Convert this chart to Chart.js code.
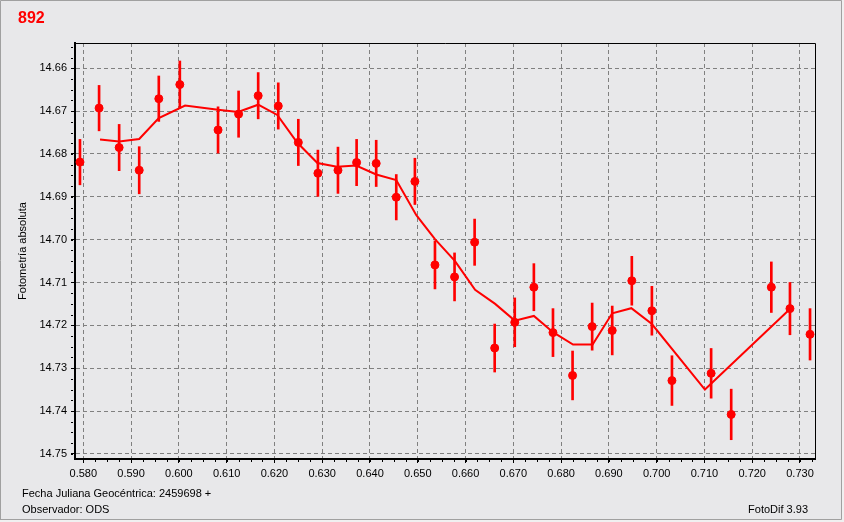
<!DOCTYPE html>
<html>
<head>
<meta charset="utf-8">
<script src="https://cdn.jsdelivr.net/npm/chart.js@4"></script>
<style>
  html, body { margin: 0; padding: 0; background: #f0f0f0; }
  canvas { display: block; }
</style>
</head>
<body>
<canvas id="lightCurve" width="844" height="522"></canvas>
<script>
// observations (JD fraction after 2459698) and magnitudes
const obsX = [0.5793, 0.5833, 0.5875, 0.5917, 0.5958, 0.6002, 0.6082, 0.6125, 0.6166, 0.6208,
  0.6250, 0.6291, 0.6333, 0.6372, 0.6413, 0.6455, 0.6494, 0.6536, 0.6577, 0.6619,
  0.6661, 0.6703, 0.6743, 0.6783, 0.6824, 0.6865, 0.6907, 0.6948, 0.6990, 0.7032,
  0.7114, 0.7156, 0.7240, 0.7279, 0.7321];
const obsY = [14.6819, 14.6693, 14.6785, 14.6838, 14.6671, 14.6638, 14.6744, 14.6707, 14.6664, 14.6688,
  14.6773, 14.6845, 14.6838, 14.6820, 14.6822, 14.6901, 14.6864, 14.7059, 14.7087, 14.7006,
  14.7253, 14.7193, 14.7111, 14.7217, 14.7317, 14.7203, 14.7212, 14.7096, 14.7166, 14.7329,
  14.7312, 14.7408, 14.7111, 14.7161, 14.7221];
const obsErr = [0.0053, 0.0053, 0.0054, 0.0055, 0.0053, 0.0055, 0.0054, 0.0054, 0.0054, 0.0054,
  0.0054, 0.0054, 0.0054, 0.0054, 0.0054, 0.0053, 0.0054, 0.0056, 0.0056, 0.0054,
  0.0056, 0.0057, 0.0055, 0.0056, 0.0057, 0.0055, 0.0057, 0.0057, 0.0057, 0.0058,
  0.0058, 0.0059, 0.0059, 0.0061, 0.0060];

// smoothed curve
const fitX = [0.5835, 0.5875, 0.5917, 0.5958, 0.6013, 0.6082, 0.6124, 0.6166, 0.6206, 0.6248,
  0.6290, 0.6331, 0.6371, 0.6413, 0.6455, 0.6497, 0.6536, 0.6578, 0.6620, 0.6662,
  0.6703, 0.6743, 0.6783, 0.6825, 0.6866, 0.6907, 0.6947, 0.6990, 0.7101, 0.7279];
const fitY = [14.6766, 14.6771, 14.6765, 14.6716, 14.6687, 14.6697, 14.6702, 14.6685, 14.6709, 14.6774,
  14.6821, 14.6830, 14.6827, 14.6848, 14.6861, 14.6943, 14.6999, 14.7050, 14.7117, 14.7150,
  14.7189, 14.7178, 14.7216, 14.7245, 14.7245, 14.7172, 14.7160, 14.7197, 14.7350, 14.7162];

const xTicks = [0.58, 0.59, 0.60, 0.61, 0.62, 0.63, 0.64, 0.65, 0.66, 0.67, 0.68, 0.69, 0.70, 0.71, 0.72, 0.73];
const yTicks = [14.66, 14.67, 14.68, 14.69, 14.70, 14.71, 14.72, 14.73, 14.74, 14.75];

const starName = '892';
const dateLabel = 'Fecha Juliana Geocéntrica: 2459698 +';
const observerLabel = 'Observador: ODS';
const softwareLabel = 'FotoDif 3.93';

const RED = '#ff0000';
const FONT = '"Liberation Sans", Arial, sans-serif';

const panelPlugin = {
  id: 'panel',
  beforeDraw(chart) {
    const c = chart.ctx;
    c.save();
    c.fillStyle = '#f0f0f0';
    c.fillRect(0, 0, chart.width, chart.height);
    c.fillStyle = '#e8e8ea';
    c.fillRect(0, 0, 842, 520);
    c.strokeStyle = '#a0a0a0';
    c.lineWidth = 1;
    c.beginPath();
    c.moveTo(0.5, 520); c.lineTo(0.5, 0.5); c.lineTo(841.5, 0.5);
    c.lineTo(841.5, 519.5); c.lineTo(0.5, 519.5);
    c.stroke();
    c.restore();
  },
  afterDraw(chart) {
    const c = chart.ctx;
    const a = chart.chartArea;
    const xs = chart.scales.x, ys = chart.scales.y;
    c.save();
    // top and right frame
    c.strokeStyle = '#000';
    c.lineWidth = 1;
    c.beginPath();
    c.moveTo(a.left, a.top + 0.5); c.lineTo(a.right + 0.5, a.top + 0.5); c.lineTo(a.right + 0.5, a.bottom);
    c.stroke();

    // minor ticks
    c.beginPath();
    for (let v = xTicks[0] - 0.0025; v <= xs.max; v += 0.0025) {
      if (v < xs.min) continue;
      const px = Math.round(xs.getPixelForValue(v)) + 0.5;
      c.moveTo(px, a.bottom + 1); c.lineTo(px, a.bottom + 3);
    }
    for (let v = yTicks[0] - 0.005; v <= ys.max; v += 0.0025) {
      if (v < ys.min) continue;
      const py = Math.round(ys.getPixelForValue(v)) + 0.5;
      c.moveTo(a.left - 4, py); c.lineTo(a.left - 2, py);
    }
    c.stroke();

    // texts
    c.fillStyle = RED;
    c.font = 'bold 16px ' + FONT;
    c.textBaseline = 'middle';
    c.textAlign = 'left';
    c.fillText(starName, 18, 19);

    c.fillStyle = '#000';
    c.font = '11px ' + FONT;
    c.fillText(dateLabel, 22, 494);
    c.fillText(observerLabel, 22, 510);
    c.textAlign = 'right';
    c.fillText(softwareLabel, 808, 510);
    c.restore();
  }
};

const gridStyle = {
  color: '#808080',
  lineWidth: 1,
  tickColor: '#000',
  tickLength: 4,
  tickBorderDash: []
};

const ctx = document.getElementById('lightCurve').getContext('2d');
const chart = new Chart(ctx, {
  type: 'scatter',
  data: {
    datasets: [
      {
        label: 'obs',
        data: obsX.map((x, i) => ({ x: x, y: obsY[i] })),
        backgroundColor: RED,
        borderColor: RED,
        borderWidth: 1,
        pointRadius: 4,
        pointStyle: 'circle',
        order: 1
      },
      {
        type: 'line',
        label: 'fit',
        data: fitX.map((x, i) => ({ x: x, y: fitY[i] })),
        borderColor: RED,
        borderWidth: 2,
        pointRadius: 0,
        tension: 0,
        fill: false,
        order: 2
      },
      {
        type: 'bar',
        label: 'err',
        data: obsX.map((x, i) => ({ x: x, y: [obsY[i] - obsErr[i], obsY[i] + obsErr[i]] })),
        backgroundColor: RED,
        borderWidth: 0,
        barThickness: 2,
        grouped: false,
        order: 3
      }
    ]
  },
  options: {
    responsive: false,
    animation: false,
    devicePixelRatio: 1,
    layout: { padding: { top: 43, right: 29, left: 0, bottom: 0 } },
    plugins: {
      legend: { display: false },
      tooltip: { enabled: false },
      title: { display: false }
    },
    scales: {
      x: {
        type: 'linear',
        min: 0.57826,
        max: 0.73314,
        offset: false,
        afterFit: s => { s.height = 63; },
        afterBuildTicks: s => { s.ticks = xTicks.map(v => ({ value: v })); },
        ticks: {
          callback: v => v.toFixed(3),
          color: '#000',
          font: { family: FONT, size: 11 },
          padding: 4,
          maxRotation: 0,
          autoSkip: false
        },
        grid: Object.assign({ offset: false }, gridStyle),
        border: { display: true, color: '#000', width: 2, dash: [4, 3] }
      },
      y: {
        type: 'linear',
        reverse: true,
        min: 14.6541,
        max: 14.7512,
        afterFit: s => { s.width = 75; },
        afterBuildTicks: s => { s.ticks = yTicks.map(v => ({ value: v })); },
        ticks: {
          callback: v => v.toFixed(2),
          color: '#000',
          font: { family: FONT, size: 11 },
          padding: 4,
          autoSkip: false
        },
        title: {
          display: true,
          text: 'Fotometría absoluta',
          color: '#000',
          font: { family: FONT, size: 11 },
          padding: { top: 16, bottom: 0 }
        },
        grid: gridStyle,
        border: { display: true, color: '#000', width: 2, dash: [4, 3] }
      }
    }
  },
  plugins: [panelPlugin]
});
</script>
</body>
</html>
